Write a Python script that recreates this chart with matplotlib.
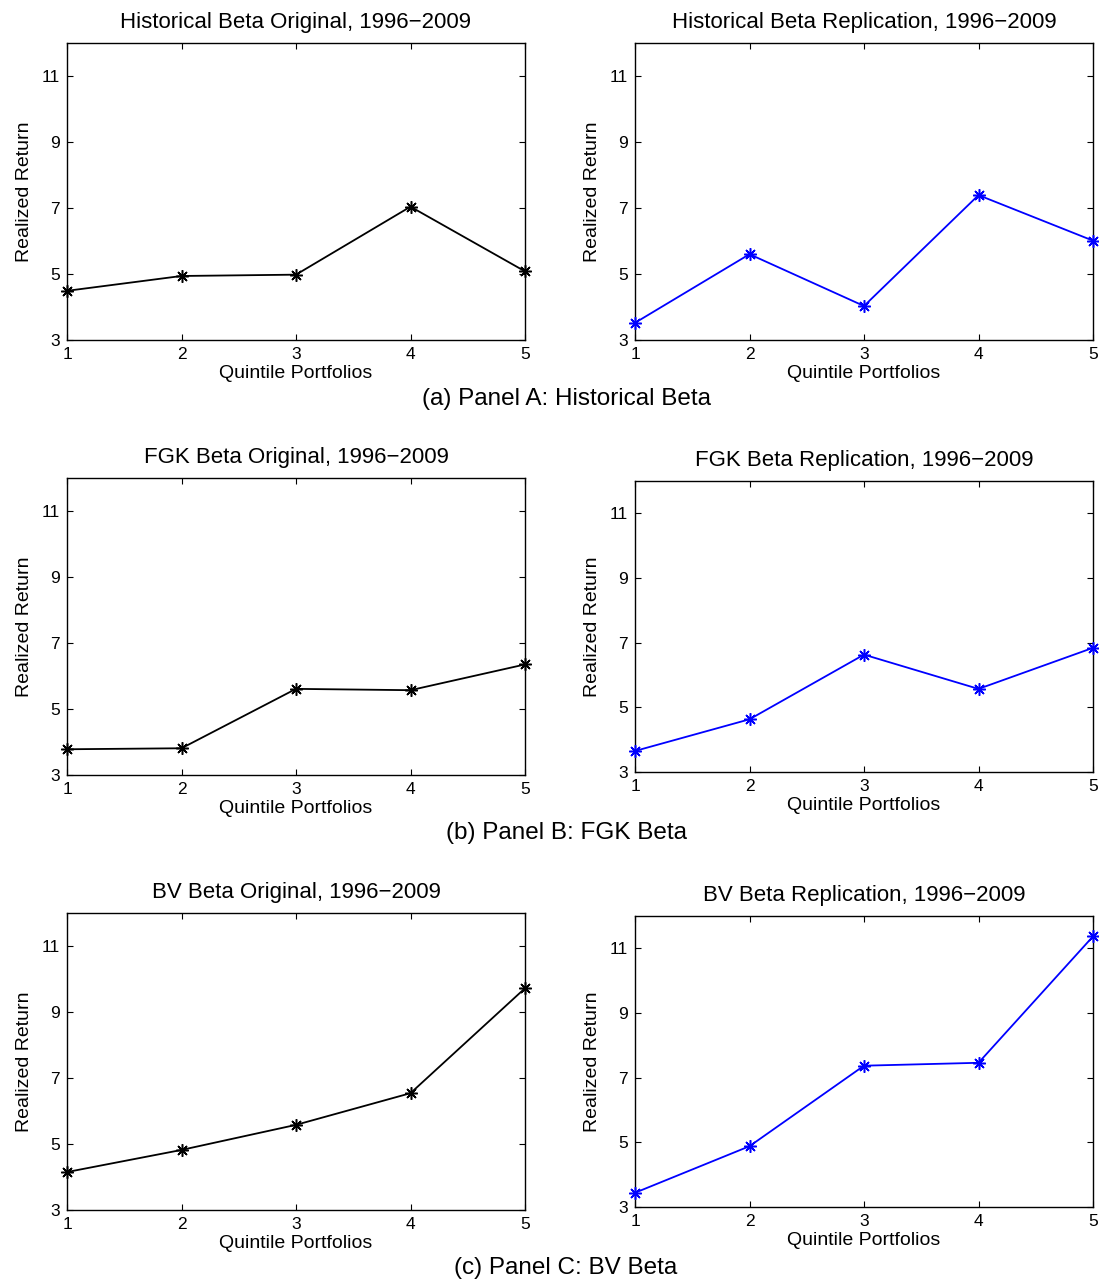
import matplotlib
matplotlib.use("Agg")
import matplotlib.pyplot as plt

plt.rcParams['font.family'] = ['Liberation Sans', 'DejaVu Sans']

quintiles = [1, 2, 3, 4, 5]
hist_original = [4.49, 4.94, 4.98, 7.04, 5.08]
hist_replication = [3.52, 5.60, 4.03, 7.39, 6.01]
fgk_original = [3.78, 3.81, 5.61, 5.57, 6.35]
fgk_replication = [3.65, 4.63, 6.63, 5.57, 6.84]
bv_original = [4.15, 4.82, 5.58, 6.54, 9.72]
bv_replication = [3.44, 4.88, 7.37, 7.46, 11.37]

titles = [
    ["Historical Beta Original, 1996\u22122009", "Historical Beta Replication, 1996\u22122009"],
    ["FGK Beta Original, 1996\u22122009", "FGK Beta Replication, 1996\u22122009"],
    ["BV Beta Original, 1996\u22122009", "BV Beta Replication, 1996\u22122009"],
]
captions = ["(a) Panel A: Historical Beta", "(b) Panel B: FGK Beta", "(c) Panel C: BV Beta"]
series = [[hist_original, hist_replication],
          [fgk_original, fgk_replication],
          [bv_original, bv_replication]]
colors = ["black", "blue"]
yticks = [3, 5, 7, 9, 11]

W, H = 1099, 1283
fig = plt.figure(figsize=(W / 100, H / 100), dpi=100)

# pixel boxes: (left, top, right, bottom)
boxes = [
    [(67, 43, 525, 340), (635, 43, 1093, 340)],
    [(67, 478, 525, 775), (635, 481, 1093, 772)],
    [(67, 913, 525, 1210), (635, 916, 1093, 1207)],
]
caption_y = [399, 833, 1268]

for r in range(3):
    for c in range(2):
        l, t, rr, b = boxes[r][c]
        ax = fig.add_axes([l / W, 1 - b / H, (rr - l) / W, (b - t) / H])
        ax.plot(quintiles, series[r][c], color=colors[c], lw=1.3,
                marker=(8, 2, 0), markersize=9, markeredgewidth=1.1,
                clip_on=False, zorder=3)
        ax.set_xlim(1, 5)
        ax.set_ylim(3, 12)
        ax.set_xticks(quintiles)
        ax.set_yticks(yticks)
        ax.tick_params(direction='in', top=True, right=True, length=4,
                       width=0.8, labelsize=12.5, pad=5)
        for s in ax.spines.values():
            s.set_linewidth(1.0)
        ax.set_title(titles[r][c], fontsize=16, pad=11)
        ax.set_xlabel("Quintile Portfolios", fontsize=14, labelpad=2)
        ax.set_ylabel("Realized Return", fontsize=14, labelpad=6)
    fig.text(566 / W, 1 - caption_y[r] / H, captions[r], ha='center', va='center', fontsize=17.5)

fig.savefig("out.png", dpi=100)
